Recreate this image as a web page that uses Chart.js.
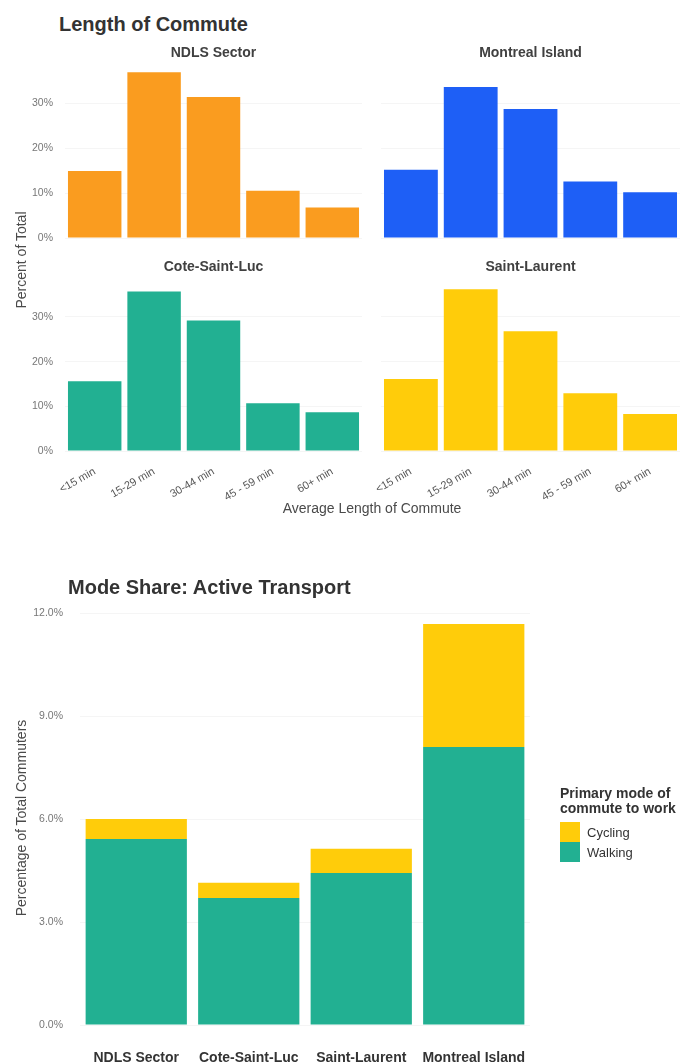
<!DOCTYPE html>
<html>
<head>
<meta charset="utf-8">
<script src="https://cdn.jsdelivr.net/npm/chart.js@4/dist/chart.umd.min.js"></script>
<style>
  html, body { margin: 0; padding: 0; background: #fff; }
  body { width: 682px; height: 1063px; position: relative; overflow: hidden;
         font-family: "Liberation Sans", Arial, Helvetica, sans-serif; }
  canvas { position: absolute; }
  .txt { position: absolute; white-space: nowrap; line-height: 1; z-index: 2; }
  .main-title { font-size: 20px; font-weight: bold; color: #333; }
  .facet-title { font-size: 14px; font-weight: bold; color: #404040; text-align: center; }
  .axis-title { font-size: 14px; color: #4a4a4a; }
  .vert { transform: translate(-50%, -50%) rotate(-90deg); }
  .legend-title { font-size: 14px; font-weight: bold; color: #333; line-height: 15px; }
  .legend-key { position: absolute; width: 20px; height: 20px; z-index: 2; }
  .legend-label { font-size: 13px; color: #333; }
</style>
</head>
<body>

<div class="txt main-title" style="left:59px; top:14px;">Length of Commute</div>
<div class="txt facet-title" style="left:65px; width:297px; top:45px;">NDLS Sector</div>
<div class="txt facet-title" style="left:381px; width:299px; top:45px;">Montreal Island</div>
<div class="txt facet-title" style="left:65px; width:297px; top:259px;">Cote-Saint-Luc</div>
<div class="txt facet-title" style="left:381px; width:299px; top:259px;">Saint-Laurent</div>
<div class="txt axis-title vert" style="left:21px; top:260px;">Percent of Total</div>
<div class="txt axis-title" style="left:222px; width:300px; text-align:center; top:501px;">Average Length of Commute</div>

<canvas id="ndls" width="366" height="213" style="left:0px; top:45px; width:366px; height:213px;"></canvas>
<canvas id="montreal" width="315" height="213" style="left:367px; top:45px; width:315px; height:213px;"></canvas>
<canvas id="cote" width="366" height="242" style="left:0px; top:259px; width:366px; height:242px;"></canvas>
<canvas id="laurent" width="315" height="242" style="left:367px; top:259px; width:315px; height:242px;"></canvas>

<div class="txt main-title" style="left:68px; top:577px;">Mode Share: Active Transport</div>
<div class="txt axis-title vert" style="left:21px; top:818px;">Percentage of Total Commuters</div>

<canvas id="modeShare" width="682" height="475" style="left:0px; top:588px; width:682px; height:475px;"></canvas>

<div class="txt legend-title" style="left:560px; top:786px;">Primary mode of<br>commute to work</div>
<div class="legend-key" id="keyCycling" style="left:560px; top:822px;"></div>
<div class="legend-key" id="keyWalking" style="left:560px; top:842px;"></div>
<div class="txt legend-label" style="left:587px; top:826px;">Cycling</div>
<div class="txt legend-label" style="left:587px; top:846px;">Walking</div>

<script>
// ---- Length of commute, share of commuters by duration (%) ----
const commuteBins = ['<15 min', '15-29 min', '30-44 min', '45 - 59 min', '60+ min'];
const ndlsShare = [14.9, 36.9, 31.4, 10.5, 6.8];
const montrealShare = [15.2, 33.6, 28.7, 12.6, 10.2];
const coteSaintLucShare = [15.6, 35.7, 29.2, 10.7, 8.7];
const saintLaurentShare = [16.1, 36.2, 26.8, 12.9, 8.3];
const shareTicks = [0, 10, 20, 30];

// ---- Active transport mode share (%) ----
const areas = ['NDLS Sector', 'Cote-Saint-Luc', 'Saint-Laurent', 'Montreal Island'];
const walkingShare = [5.42, 3.70, 4.43, 8.10];
const cyclingShare = [0.58, 0.44, 0.70, 3.58];
const modeTicks = [0, 3, 6, 9, 12];

// Palette
const ORANGE = '#FA9C1F';
const BLUE = '#1E5FF6';
const TEAL = '#22B092';
const YELLOW = '#FFCC0A';

Chart.defaults.font.family = '"Liberation Sans", Arial, Helvetica, sans-serif';
Chart.defaults.animation = false;
Chart.defaults.plugins.legend.display = false;
Chart.defaults.plugins.tooltip.enabled = false;

const GRID = '#f5f5f5';

// One facet of the commute-length panel; the y-axis ticks only appear in the left column
// and the duration labels only in the bottom row.
function facet(id, values, color, showY, showX) {
  new Chart(document.getElementById(id), {
    type: 'bar',
    data: {
      labels: commuteBins,
      datasets: [{ data: values, backgroundColor: color, borderWidth: 0,
                   barPercentage: 0.9, categoryPercentage: 1.0 }]
    },
    options: {
      responsive: false,
      layout: { padding: { left: showY ? 0 : 14, right: showY ? 4 : 2, top: 20, bottom: showX ? 0 : 20 } },
      scales: {
        x: {
          display: showX,
          grid: { display: false },
          border: { display: false },
          ticks: { color: '#555', font: { size: 11 },
                   minRotation: 30, maxRotation: 30, padding: 6, autoSkip: false },
          afterFit: s => { if (showX) s.height = 50; }
        },
        y: {
          min: 0, max: 38.5,
          grid: { color: GRID, drawTicks: false },
          border: { display: false },
          ticks: { display: showY, color: '#777', font: { size: 10.5 }, padding: 12,
                   callback: v => v + '%' },
          afterBuildTicks: s => { s.ticks = shareTicks.map(v => ({ value: v })); },
          afterFit: s => { s.width = showY ? 65 : 0; }
        }
      }
    }
  });
}

facet('ndls', ndlsShare, ORANGE, true, false);
facet('montreal', montrealShare, BLUE, false, false);
facet('cote', coteSaintLucShare, TEAL, true, true);
facet('laurent', saintLaurentShare, YELLOW, false, true);

// Stacked mode-share bars: walking at the base, cycling on top
new Chart(document.getElementById('modeShare'), {
  type: 'bar',
  data: {
    labels: areas,
    datasets: [
      { label: 'Walking', data: walkingShare, backgroundColor: TEAL, borderWidth: 0,
        barPercentage: 0.9, categoryPercentage: 1.0 },
      { label: 'Cycling', data: cyclingShare, backgroundColor: YELLOW, borderWidth: 0,
        barPercentage: 0.9, categoryPercentage: 1.0 }
    ]
  },
  options: {
    responsive: false,
    layout: { padding: { left: 0, right: 152, top: 25, bottom: 0 } },
    scales: {
      x: {
        stacked: true,
        grid: { display: false },
        border: { display: false },
        ticks: { color: '#333', font: { size: 14, weight: 'bold' }, padding: 17, autoSkip: false,
                 maxRotation: 0 },
        afterFit: s => { s.height = 38; }
      },
      y: {
        stacked: true,
        min: 0, max: 12,
        grid: { color: GRID, drawTicks: false },
        border: { display: false },
        ticks: { color: '#777', font: { size: 10.5 }, padding: 17,
                 callback: v => v.toFixed(1) + '%' },
        afterBuildTicks: s => { s.ticks = modeTicks.map(v => ({ value: v })); },
        afterFit: s => { s.width = 80; }
      }
    }
  }
});

document.getElementById('keyCycling').style.background = YELLOW;
document.getElementById('keyWalking').style.background = TEAL;
</script>
</body>
</html>
